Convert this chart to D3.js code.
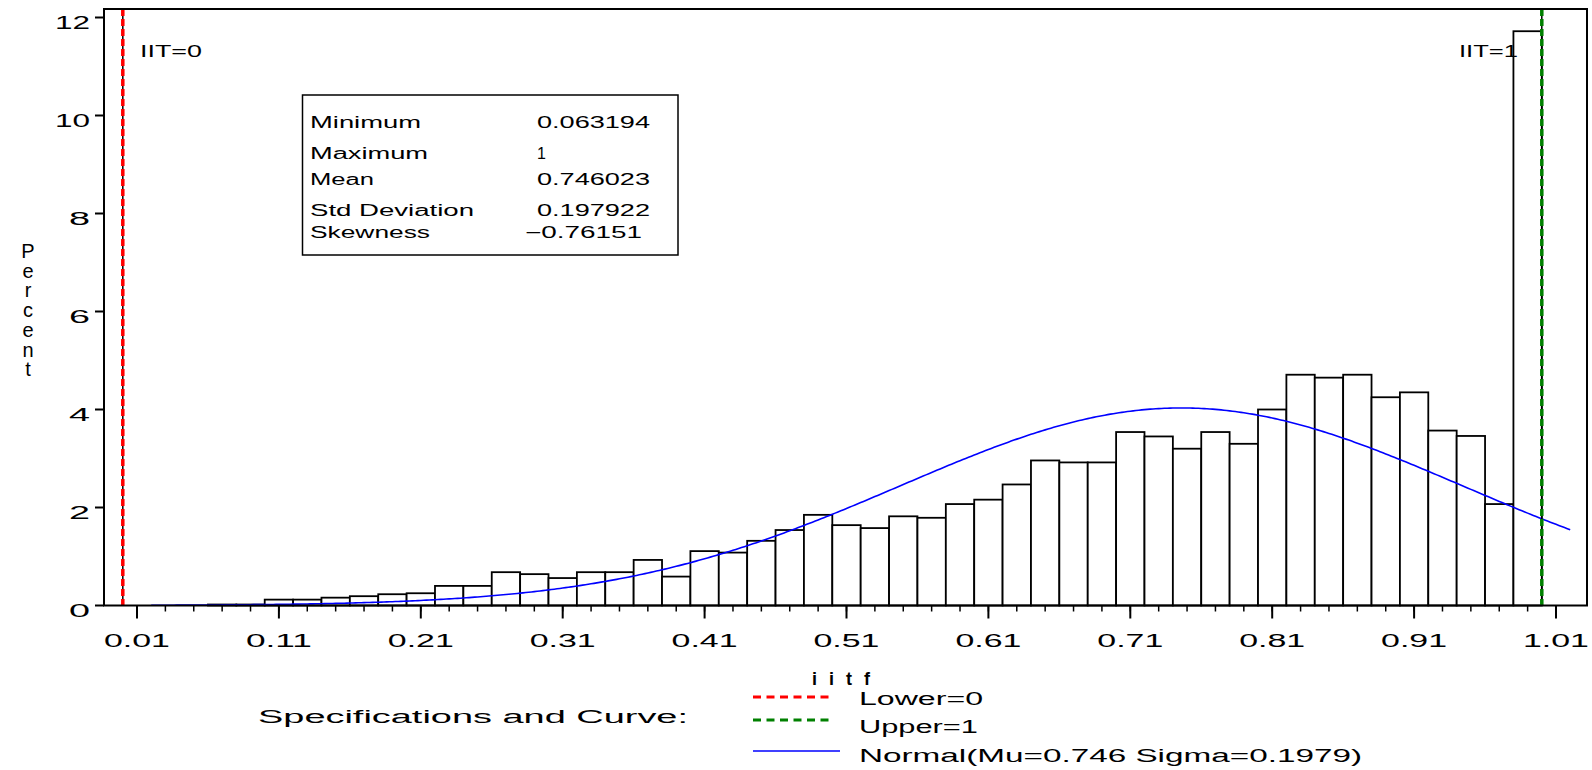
<!DOCTYPE html>
<html>
<head>
<meta charset="utf-8">
<script src="https://cdn.jsdelivr.net/npm/d3@7/dist/d3.min.js"></script>
<style>
    body { margin: 0; background: #fff; }
    svg { display: block; }
    text { font-family: "Liberation Sans", Arial, sans-serif; fill: #000; }
</style>
</head>
<body>
<div id="chart"></div>
<script>
// Histogram bins (midpoints) and percent of observations in each bin
const midpoints = [0.01, 0.03, 0.05, 0.07, 0.09, 0.11, 0.13, 0.15, 0.17, 0.19,
                   0.21, 0.23, 0.25, 0.27, 0.29, 0.31, 0.33, 0.35, 0.37, 0.39,
                   0.41, 0.43, 0.45, 0.47, 0.49, 0.51, 0.53, 0.55, 0.57, 0.59,
                   0.61, 0.63, 0.65, 0.67, 0.69, 0.71, 0.73, 0.75, 0.77, 0.79,
                   0.81, 0.83, 0.85, 0.87, 0.89, 0.91, 0.93, 0.95, 0.97, 0.99];
const percents = [0, 0, 0, 0.02, 0.02, 0.12, 0.12, 0.16, 0.19, 0.23,
                  0.25, 0.40, 0.40, 0.68, 0.64, 0.56, 0.68, 0.68, 0.93, 0.59,
                  1.11, 1.08, 1.32, 1.54, 1.85, 1.64, 1.58, 1.82, 1.79, 2.07,
                  2.16, 2.47, 2.96, 2.92, 2.92, 3.54, 3.45, 3.20, 3.54, 3.30,
                  4.00, 4.71, 4.65, 4.71, 4.25, 4.35, 3.57, 3.46, 2.07, 11.72];
const binWidth = 0.02;

// Axis ticks
const yTicks = [0, 2, 4, 6, 8, 10, 12];
const xMajorTicks = [0.01, 0.11, 0.21, 0.31, 0.41, 0.51, 0.61, 0.71, 0.81, 0.91, 1.01];
const xTickLabels = ['0.01', '0.11', '0.21', '0.31', '0.41', '0.51', '0.61', '0.71', '0.81', '0.91', '1.01'];

// Summary statistics inset
const statNames = ['Minimum', 'Maximum', 'Mean', 'Std Deviation', 'Skewness'];
const statValues = ['0.063194', '1', '0.746023', '0.197922', '\u22120.76151'];

// Specification limits and fitted normal curve
const specValues = [0, 1];
const specLabels = ['IIT=0', 'IIT=1'];
const specColors = ['#ff0000', '#008000'];
const legendLabels = ['Lower=0', 'Upper=1', 'Normal(Mu=0.746 Sigma=0.1979)'];
const mu = 0.746;
const sigma = 0.1979;

const width = 1592, height = 770;
const frame = { left: 104, top: 9, right: 1587, bottom: 605.5 };

const svg = d3.select('#chart')
    .append('svg')
    .attr('width', width)
    .attr('height', height);

const x = d3.scaleLinear().domain([0.01, 1.01]).range([137, 1556]);
const y = d3.scaleLinear().domain([0, 12]).range([frame.bottom, 17.5]);

// Stretch text to the wide look of the original device font
function fit(sel, len) {
    return sel.attr('textLength', len).attr('lengthAdjust', 'spacingAndGlyphs');
}

// Bars
svg.append('g')
    .selectAll('rect')
    .data(midpoints.map((m, i) => ({ m, p: percents[i] })).filter(d => d.p > 0))
    .enter()
    .append('rect')
    .attr('x', d => x(d.m - binWidth / 2))
    .attr('y', d => y(d.p))
    .attr('width', d => x(d.m + binWidth / 2) - x(d.m - binWidth / 2))
    .attr('height', d => y(0) - y(d.p))
    .attr('fill', '#fff')
    .attr('stroke', '#000')
    .attr('stroke-width', 1.8);

// Normal curve scaled to percent per bin
const pdf = v => Math.exp(-0.5 * Math.pow((v - mu) / sigma, 2)) / (sigma * Math.sqrt(2 * Math.PI));
const curvePts = d3.range(0.02, 1.0205, 0.002).map(v => [v, pdf(v) * binWidth * 100]);
svg.append('path')
    .datum(curvePts)
    .attr('fill', 'none')
    .attr('stroke', '#0000ff')
    .attr('stroke-width', 1.6)
    .attr('d', d3.line().x(d => x(d[0])).y(d => y(d[1])));

// Specification lines
specValues.forEach((v, i) => {
    svg.append('line')
        .attr('x1', x(v)).attr('x2', x(v))
        .attr('y1', frame.top).attr('y2', frame.bottom)
        .attr('stroke', '#000').attr('stroke-width', 1.5);
    svg.append('line')
        .attr('x1', x(v)).attr('x2', x(v))
        .attr('y1', frame.top).attr('y2', frame.bottom)
        .attr('stroke', specColors[i]).attr('stroke-width', 3.5)
        .attr('stroke-dasharray', '7,3');
});

fit(svg.append('text').attr('x', 140).attr('y', 57).style('font-size', '16px').text(specLabels[0]), 62);
fit(svg.append('text').attr('x', 1459).attr('y', 57).style('font-size', '16px').text(specLabels[1]), 59);

// Frame
svg.append('rect')
    .attr('x', frame.left).attr('y', frame.top)
    .attr('width', frame.right - frame.left)
    .attr('height', frame.bottom - frame.top)
    .attr('fill', 'none')
    .attr('stroke', '#000')
    .attr('stroke-width', 2);

// Y axis
const yAxis = svg.append('g');
yAxis.selectAll('line')
    .data(yTicks)
    .enter()
    .append('line')
    .attr('x1', frame.left - 9).attr('x2', frame.left)
    .attr('y1', d => y(d)).attr('y2', d => y(d))
    .attr('stroke', '#000').attr('stroke-width', 2);
yAxis.selectAll('text')
    .data(yTicks)
    .enter()
    .append('text')
    .attr('x', 90)
    .attr('y', d => y(d) + 11)
    .attr('text-anchor', 'end')
    .style('font-size', '18px')
    .text(d => d)
    .each(function(d) { fit(d3.select(this), d >= 10 ? 35 : 21); });

// "Percent" stacked vertically
'Percent'.split('').forEach((ch, i) => {
    svg.append('text')
        .attr('x', 28)
        .attr('y', 258 + i * 19.7)
        .attr('text-anchor', 'middle')
        .style('font-size', '20px')
        .text(ch);
});

// X axis: major ticks at labelled midpoints, minor ticks at every bin midpoint
const xAxis = svg.append('g');
xAxis.selectAll('line.minor')
    .data(midpoints.slice(1))
    .enter()
    .append('line')
    .attr('class', 'minor')
    .attr('x1', d => x(d)).attr('x2', d => x(d))
    .attr('y1', frame.bottom).attr('y2', frame.bottom + 6)
    .attr('stroke', '#000').attr('stroke-width', 1.5);
xAxis.selectAll('line.major')
    .data(xMajorTicks)
    .enter()
    .append('line')
    .attr('class', 'major')
    .attr('x1', d => x(d)).attr('x2', d => x(d))
    .attr('y1', frame.bottom).attr('y2', frame.bottom + 13)
    .attr('stroke', '#000').attr('stroke-width', 2);
xAxis.selectAll('text')
    .data(xMajorTicks)
    .enter()
    .append('text')
    .attr('x', d => x(d))
    .attr('y', 647)
    .attr('text-anchor', 'middle')
    .style('font-size', '18px')
    .text((d, i) => xTickLabels[i])
    .each(function() { fit(d3.select(this), 66); });

// Axis label, letters spread apart like the original
svg.append('text')
    .attr('x', 812).attr('y', 685)
    .attr('textLength', 58).attr('lengthAdjust', 'spacing')
    .style('font-size', '18px').style('font-weight', 'bold')
    .text('iitf');

// Summary statistics box
svg.append('rect')
    .attr('x', 302.5).attr('y', 95)
    .attr('width', 375.5).attr('height', 160)
    .attr('fill', '#fff')
    .attr('stroke', '#000')
    .attr('stroke-width', 1.5);
const statRows = [128, 158.5, 185, 215.5, 238];
const statWidths = [111, 118, 64, 164, 120];
statNames.forEach((name, i) => {
    fit(svg.append('text').attr('x', 310).attr('y', statRows[i])
        .style('font-size', '16px').text(name), statWidths[i]);
    const neg = statValues[i].startsWith('\u2212');
    const val = svg.append('text')
        .attr('x', neg ? 525 : 537).attr('y', statRows[i])
        .style('font-size', '16px').text(statValues[i]);
    if (statValues[i].length > 1) fit(val, neg ? 117 : 113);
});

// Legend
fit(svg.append('text').attr('x', 258).attr('y', 723).style('font-size', '18px')
    .text('Specifications and Curve:'), 430);
const legendY = [697, 720, 751];
const legendTextY = [705, 733, 762];
const legendColors = ['#ff0000', '#008000', '#0000ff'];
legendLabels.forEach((label, i) => {
    const ln = svg.append('line')
        .attr('x1', 753).attr('x2', i === 2 ? 840 : 833)
        .attr('y1', legendY[i]).attr('y2', legendY[i])
        .attr('stroke', legendColors[i])
        .attr('stroke-width', i === 2 ? 1.6 : 3);
    if (i < 2) ln.attr('stroke-dasharray', '8,5.5');
    fit(svg.append('text').attr('x', 859).attr('y', legendTextY[i])
        .style('font-size', '18px').text(label), [124, 119, 503][i]);
});
</script>
</body>
</html>
